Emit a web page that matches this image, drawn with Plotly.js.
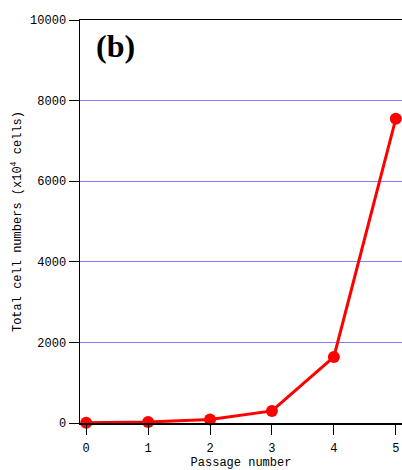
<!DOCTYPE html>
<html>
<head>
<meta charset="utf-8">
<script src="https://cdn.plot.ly/plotly-3.0.1.min.js"></script>
<style>html,body{margin:0;padding:0;background:#fff;}#chart{width:402px;height:470px;}</style>
</head>
<body>
<div id="chart"></div>
<script>
const passages = [0, 1, 2, 3, 4, 5];
const totalCells = [5, 25, 85, 300, 1640, 7550];
const yTicks = [0, 2000, 4000, 6000, 8000, 10000];
const xTicks = [0, 1, 2, 3, 4, 5];

const mono = "Liberation Mono, DejaVu Sans Mono, monospace";

const trace = {
  x: passages,
  y: totalCells,
  type: 'scatter',
  mode: 'lines+markers',
  line: {color: '#ff0000', width: 3},
  marker: {color: '#ff0000', size: 12},
  cliponaxis: false,
  hoverinfo: 'skip'
};

const layout = {
  width: 402, height: 470,
  margin: {l: 80, r: 0, t: 20, b: 47},
  paper_bgcolor: '#fff', plot_bgcolor: '#fff',
  showlegend: false,
  font: {family: mono, size: 12, color: '#000'},
  xaxis: {
    range: [-0.1, 5.1],
    tickvals: xTicks,
    ticktext: xTicks.map(String),
    ticks: 'outside', ticklen: 10, tickwidth: 1, tickcolor: '#000',
    ticklabelstandoff: 3,
    showline: true, linecolor: '#000', linewidth: 1.5, mirror: true,
    showgrid: false, zeroline: false,
    tickfont: {family: mono, size: 12},
    title: {text: 'Passage number', font: {family: mono, size: 12}, standoff: 4}
  },
  yaxis: {
    range: [0, 10000],
    tickvals: yTicks,
    ticktext: yTicks.map(String),
    ticks: 'outside', ticklen: 10, tickwidth: 1, tickcolor: '#000',
    showline: true, linecolor: '#000', linewidth: 1.5,
    showgrid: true, gridcolor: '#8080ff', gridwidth: 1,
    zeroline: false,
    tickfont: {family: mono, size: 12},
    title: {text: 'Total cell numbers (x10<sup>4</sup> cells)', font: {family: mono, size: 12}, standoff: 6}
  },
  annotations: [{
    xref: 'paper', yref: 'paper',
    x: 0.045, y: 0.985, xanchor: 'left', yanchor: 'top',
    text: '<b>(b)</b>', showarrow: false,
    font: {family: 'Liberation Serif, Times New Roman, serif', size: 32, color: '#000'}
  }]
};

Plotly.newPlot('chart', [trace], layout, {staticPlot: true, displayModeBar: false});
</script>
</body>
</html>
